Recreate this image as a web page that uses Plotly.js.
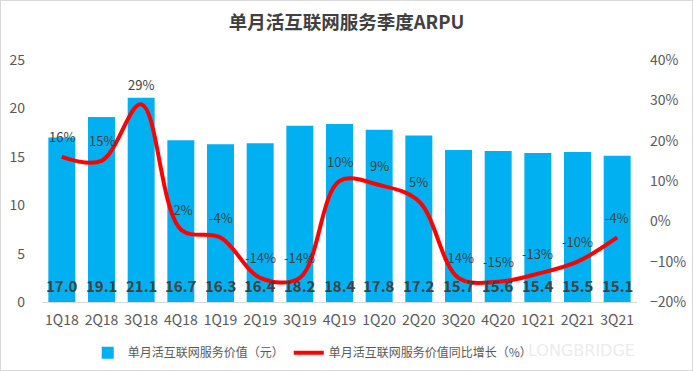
<!DOCTYPE html>
<html><head><meta charset="utf-8">
<script src="https://cdn.plot.ly/plotly-3.0.1.min.js"></script>
<style>
html,body{margin:0;padding:0;background:#fff;}
#wrap{position:relative;width:693px;height:371px;}
#chart{position:absolute;left:0;top:0;width:693px;height:371px;}
#frame{position:absolute;left:0;top:0;width:693px;height:371px;box-sizing:border-box;border:1px solid #d9d9d9;pointer-events:none;}
</style></head>
<body><div id="wrap"><div id="chart"></div><div id="frame"></div></div>
<script>
var categories = ['1Q18','2Q18','3Q18','4Q18','1Q19','2Q19','3Q19','4Q19','1Q20','2Q20','3Q20','4Q20','1Q21','2Q21','3Q21'];
var arpu = [17.0,19.1,21.1,16.7,16.3,16.4,18.2,18.4,17.8,17.2,15.7,15.6,15.4,15.5,15.1];
var yoy = [16,15,29,-2,-4,-14,-14,10,9,5,-14,-15,-13,-10,-4];
var barName = '单月活互联网服务价值（元）';
var lineName = '单月活互联网服务价值同比增长（%）';

var font = 'Microsoft YaHei, "Noto Sans CJK SC", "DejaVu Sans", sans-serif';
var traces = [
  {type:'bar', x:categories, y:arpu, name:barName, marker:{color:'#00B0F0'}, width:0.68, hoverinfo:'skip'},
  {type:'scatter', mode:'lines', x:categories, y:yoy, yaxis:'y2', name:lineName,
   line:{color:'#FF0000', width:4, shape:'spline', smoothing:1}}
];
var annotations = [];
categories.forEach(function(c, i){
  annotations.push({x:c, y:0, xref:'x', yref:'y', text:'<b>'+arpu[i].toFixed(1)+'</b>', showarrow:false,
    yanchor:'bottom', xanchor:'center', yshift:4, font:{family:font, size:15, color:'#404040'}});
  annotations.push({x:c, y:yoy[i], xref:'x', yref:'y2', text:yoy[i]+'%', showarrow:false,
    yanchor:'middle', xanchor:'center', yshift:20, font:{family:font, size:13, color:'#404040'}});
});
annotations.push({text:'LONGBRIDGE', xref:'paper', yref:'paper', x:1.0, y:-0.2, xanchor:'right', yanchor:'middle', showarrow:false, font:{size:16, color:'#ececec', family:'"DejaVu Sans", sans-serif'}});

var layout = {
  width:693, height:371,
  margin:{l:42, r:56, t:60, b:69, autoexpand:false},
  paper_bgcolor:'#fff', plot_bgcolor:'#fff',
  font:{family:font, color:'#595959', size:13},
  title:{text:'<b>单月活互联网服务季度ARPU</b>', x:0.5, xanchor:'center', y:0.94, yanchor:'middle', font:{size:18.5, color:'#404040', family:font}},
  xaxis:{type:'category', automargin:false, showgrid:false, showline:true, linecolor:'#d9d9d9', linewidth:1, ticks:'', tickfont:{size:14, color:'#595959'}, zeroline:false, ticklabelstandoff:5},
  yaxis:{range:[0,25], automargin:false, dtick:5, showgrid:false, zeroline:false, showline:false, ticks:'', tickfont:{size:14, color:'#595959'}, ticklabelstandoff:16},
  yaxis2:{range:[-20,40], automargin:false, dtick:10, overlaying:'y', side:'right', showgrid:false, zeroline:false, showline:false, ticks:'', ticksuffix:'%', tickfont:{size:14, color:'#595959'}, ticklabelstandoff:12},
  legend:{orientation:'h', x:0.455, xanchor:'center', y:-0.15, yanchor:'top', font:{size:12, color:'#595959'}, traceorder:'normal'},
  showlegend:true,
  annotations:annotations
};
Plotly.newPlot('chart', traces, layout, {displayModeBar:false, staticPlot:true});
</script></body></html>
